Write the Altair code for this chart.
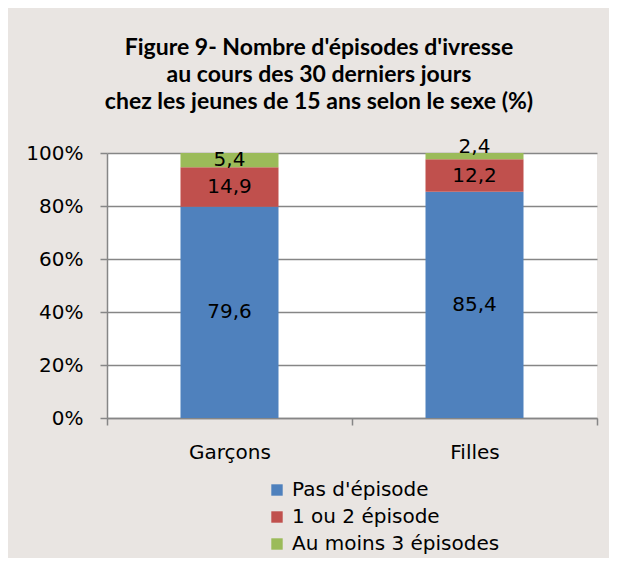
import altair as alt
import pandas as pd

sexes = ["Garçons", "Filles"]
categories = ["Pas d'épisode", "1 ou 2 épisode", "Au moins 3 épisodes"]
colors = ["#4F81BD", "#C0504D", "#9BBB59"]
garcons = [79.6, 14.9, 5.4]
filles = [85.4, 12.2, 2.4]

rows = []
for s, vals in zip(sexes, [garcons, filles]):
    for i, (c, v) in enumerate(zip(categories, vals)):
        rows.append({"sexe": s, "cat": c, "ord": i, "value": v,
                     "label": f"{v:.1f}".replace(".", ",")})
df = pd.DataFrame(rows)

FONT = "DejaVu Sans"
FS = 20

base = alt.Chart(df).transform_stack(
    stack="value", groupby=["sexe"], sort=[{"field": "ord", "order": "ascending"}],
    as_=["y0", "y1"], offset="normalize"
).transform_calculate(
    mid="(datum.y0 + datum.y1) / 2"
).transform_calculate(
    # thin segments: Excel pushes the label up so it does not overlap its neighbour
    labely="(datum.y1 - datum.y0) < 0.03 ? datum.mid + 0.034 : datum.mid"
)

x = alt.X("sexe:N", sort=sexes, title=None,
          scale=alt.Scale(paddingInner=0, paddingOuter=0),
          axis=alt.Axis(labelAngle=0, tickBand="extent", domainColor="#868686",
                        tickColor="#868686", tickSize=7, labelPadding=17,
                        labelFontSize=FS, labelFont=FONT, labelColor="#000000",
                        domainWidth=1.5, tickWidth=1.5))

bars = base.mark_bar(width={"band": 0.4}).encode(
    x=x,
    y=alt.Y("y0:Q", scale=alt.Scale(domain=[0, 1]), title=None,
            axis=alt.Axis(format=".0%", values=[0, 0.2, 0.4, 0.6, 0.8, 1.0],
                          gridColor="#868686", gridWidth=1.5, domainColor="#868686",
                          domainWidth=1.5, tickColor="#868686", tickWidth=1.5, tickSize=7,
                          labelPadding=17, labelFontSize=FS, labelFont=FONT,
                          labelColor="#000000")),
    y2="y1:Q",
    color=alt.Color("cat:N", sort=categories, title=None,
                    scale=alt.Scale(domain=categories, range=colors),
                    legend=alt.Legend(orient="none", legendX=160, legendY=327,
                                      direction="vertical", symbolType="square",
                                      symbolSize=130, symbolStrokeWidth=0,
                                      labelFontSize=FS, labelFont=FONT, labelLimit=0,
                                      labelColor="#000000", rowPadding=7,
                                      labelOffset=5)),
    order=alt.Order("ord:Q"),
)

texts = base.mark_text(fontSize=FS, font=FONT, color="#000000").encode(
    x=alt.X("sexe:N", sort=sexes),
    y=alt.Y("labely:Q", scale=alt.Scale(domain=[0, 1])),
    text="label:N",
)

chart = (bars + texts).properties(
    width=490, height=265,
    autosize=alt.AutoSizeParams(type="none"),
    padding={"left": 99, "top": 145, "right": 12, "bottom": 140},
    background="#E9E5E2",
    title=alt.Title(
        ["Figure 9- Nombre d'épisodes d'ivresse", "au cours des 30 derniers jours",
         "chez les jeunes de 15 ans selon le sexe (%)"],
        font="Lato", fontSize=23, fontWeight="bold", color="#000000",
        lineHeight=27, anchor="middle", dx=-33, dy=9, offset=32),
).configure_view(fill="#FFFFFF", stroke=None)

chart.save("out.html", embed_options={"renderer": "svg", "actions": False})
